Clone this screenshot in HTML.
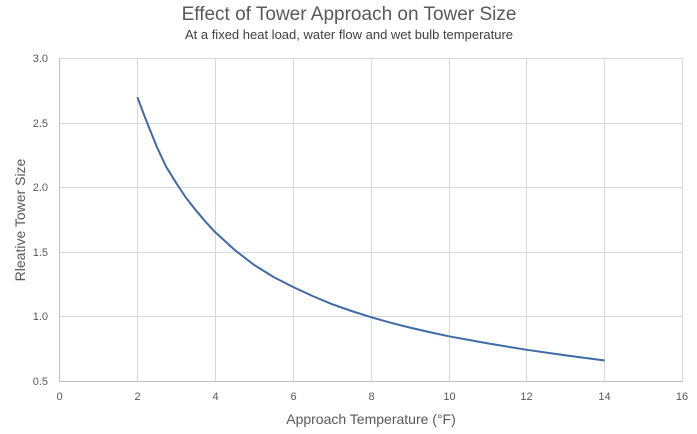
<!DOCTYPE html>
<html><head><style>body{margin:0;background:#fff}svg{display:block;font-family:"Liberation Sans",sans-serif}</style></head>
<body>
<svg width="697" height="434" viewBox="0 0 697 434">
<text x="349" y="20" text-anchor="middle" font-size="19" fill="#595959">Effect of Tower Approach on Tower Size</text>
<text x="349" y="39" text-anchor="middle" font-size="13" fill="#404040">At a fixed heat load, water flow and wet bulb temperature</text>
<g stroke="#d9d9d9" stroke-width="1">
<line x1="59.5" y1="58.5" x2="683" y2="58.5"/>
<line x1="59.5" y1="123.5" x2="683" y2="123.5"/>
<line x1="59.5" y1="187.5" x2="683" y2="187.5"/>
<line x1="59.5" y1="252.5" x2="683" y2="252.5"/>
<line x1="59.5" y1="316.5" x2="683" y2="316.5"/>
<line x1="137.5" y1="58" x2="137.5" y2="381"/>
<line x1="215.5" y1="58" x2="215.5" y2="381"/>
<line x1="293.5" y1="58" x2="293.5" y2="381"/>
<line x1="371.5" y1="58" x2="371.5" y2="381"/>
<line x1="449.5" y1="58" x2="449.5" y2="381"/>
<line x1="526.5" y1="58" x2="526.5" y2="381"/>
<line x1="604.5" y1="58" x2="604.5" y2="381"/>
<line x1="682.5" y1="58" x2="682.5" y2="381"/>
</g>
<g stroke="#bfbfbf"><line x1="59.5" y1="58" x2="59.5" y2="381.5"/><line x1="59" y1="381.5" x2="683" y2="381.5"/></g>
<g font-size="11" fill="#595959" text-anchor="end">
<text x="48" y="62">3.0</text><text x="48" y="127">2.5</text><text x="48" y="191">2.0</text>
<text x="48" y="256">1.5</text><text x="48" y="320">1.0</text><text x="48" y="385">0.5</text>
</g>
<g font-size="11" fill="#595959" text-anchor="middle">
<text x="59.5" y="400">0</text><text x="137.5" y="400">2</text><text x="215.5" y="400">4</text><text x="293.5" y="400">6</text>
<text x="371.5" y="400">8</text><text x="449.5" y="400">10</text><text x="526.5" y="400">12</text><text x="604.5" y="400">14</text><text x="682" y="400">16</text>
</g>
<text x="371" y="424" text-anchor="middle" font-size="14" fill="#595959">Approach Temperature (°F)</text>
<text transform="translate(25,220) rotate(-90)" text-anchor="middle" font-size="14" fill="#595959">Rleative Tower Size</text>
<polyline fill="none" stroke="#3f6aa8" stroke-width="2" stroke-linejoin="round" points="137.4,97.2 146,120 156.9,147 166,166.5 176.3,183.2 185.8,197.5 195.8,210.2 205.5,221.7 215.3,232.3 234.5,249.8 254.2,265 273.5,277 293.1,287 312.5,296 332.1,304.2 351.5,311 371,317.2 390.5,322.7 410,327.6 429.5,332.1 448.9,336.3 487.8,343.4 526.8,349.8 565.8,355.4 604.7,360.5"/>
</svg>
</body></html>
